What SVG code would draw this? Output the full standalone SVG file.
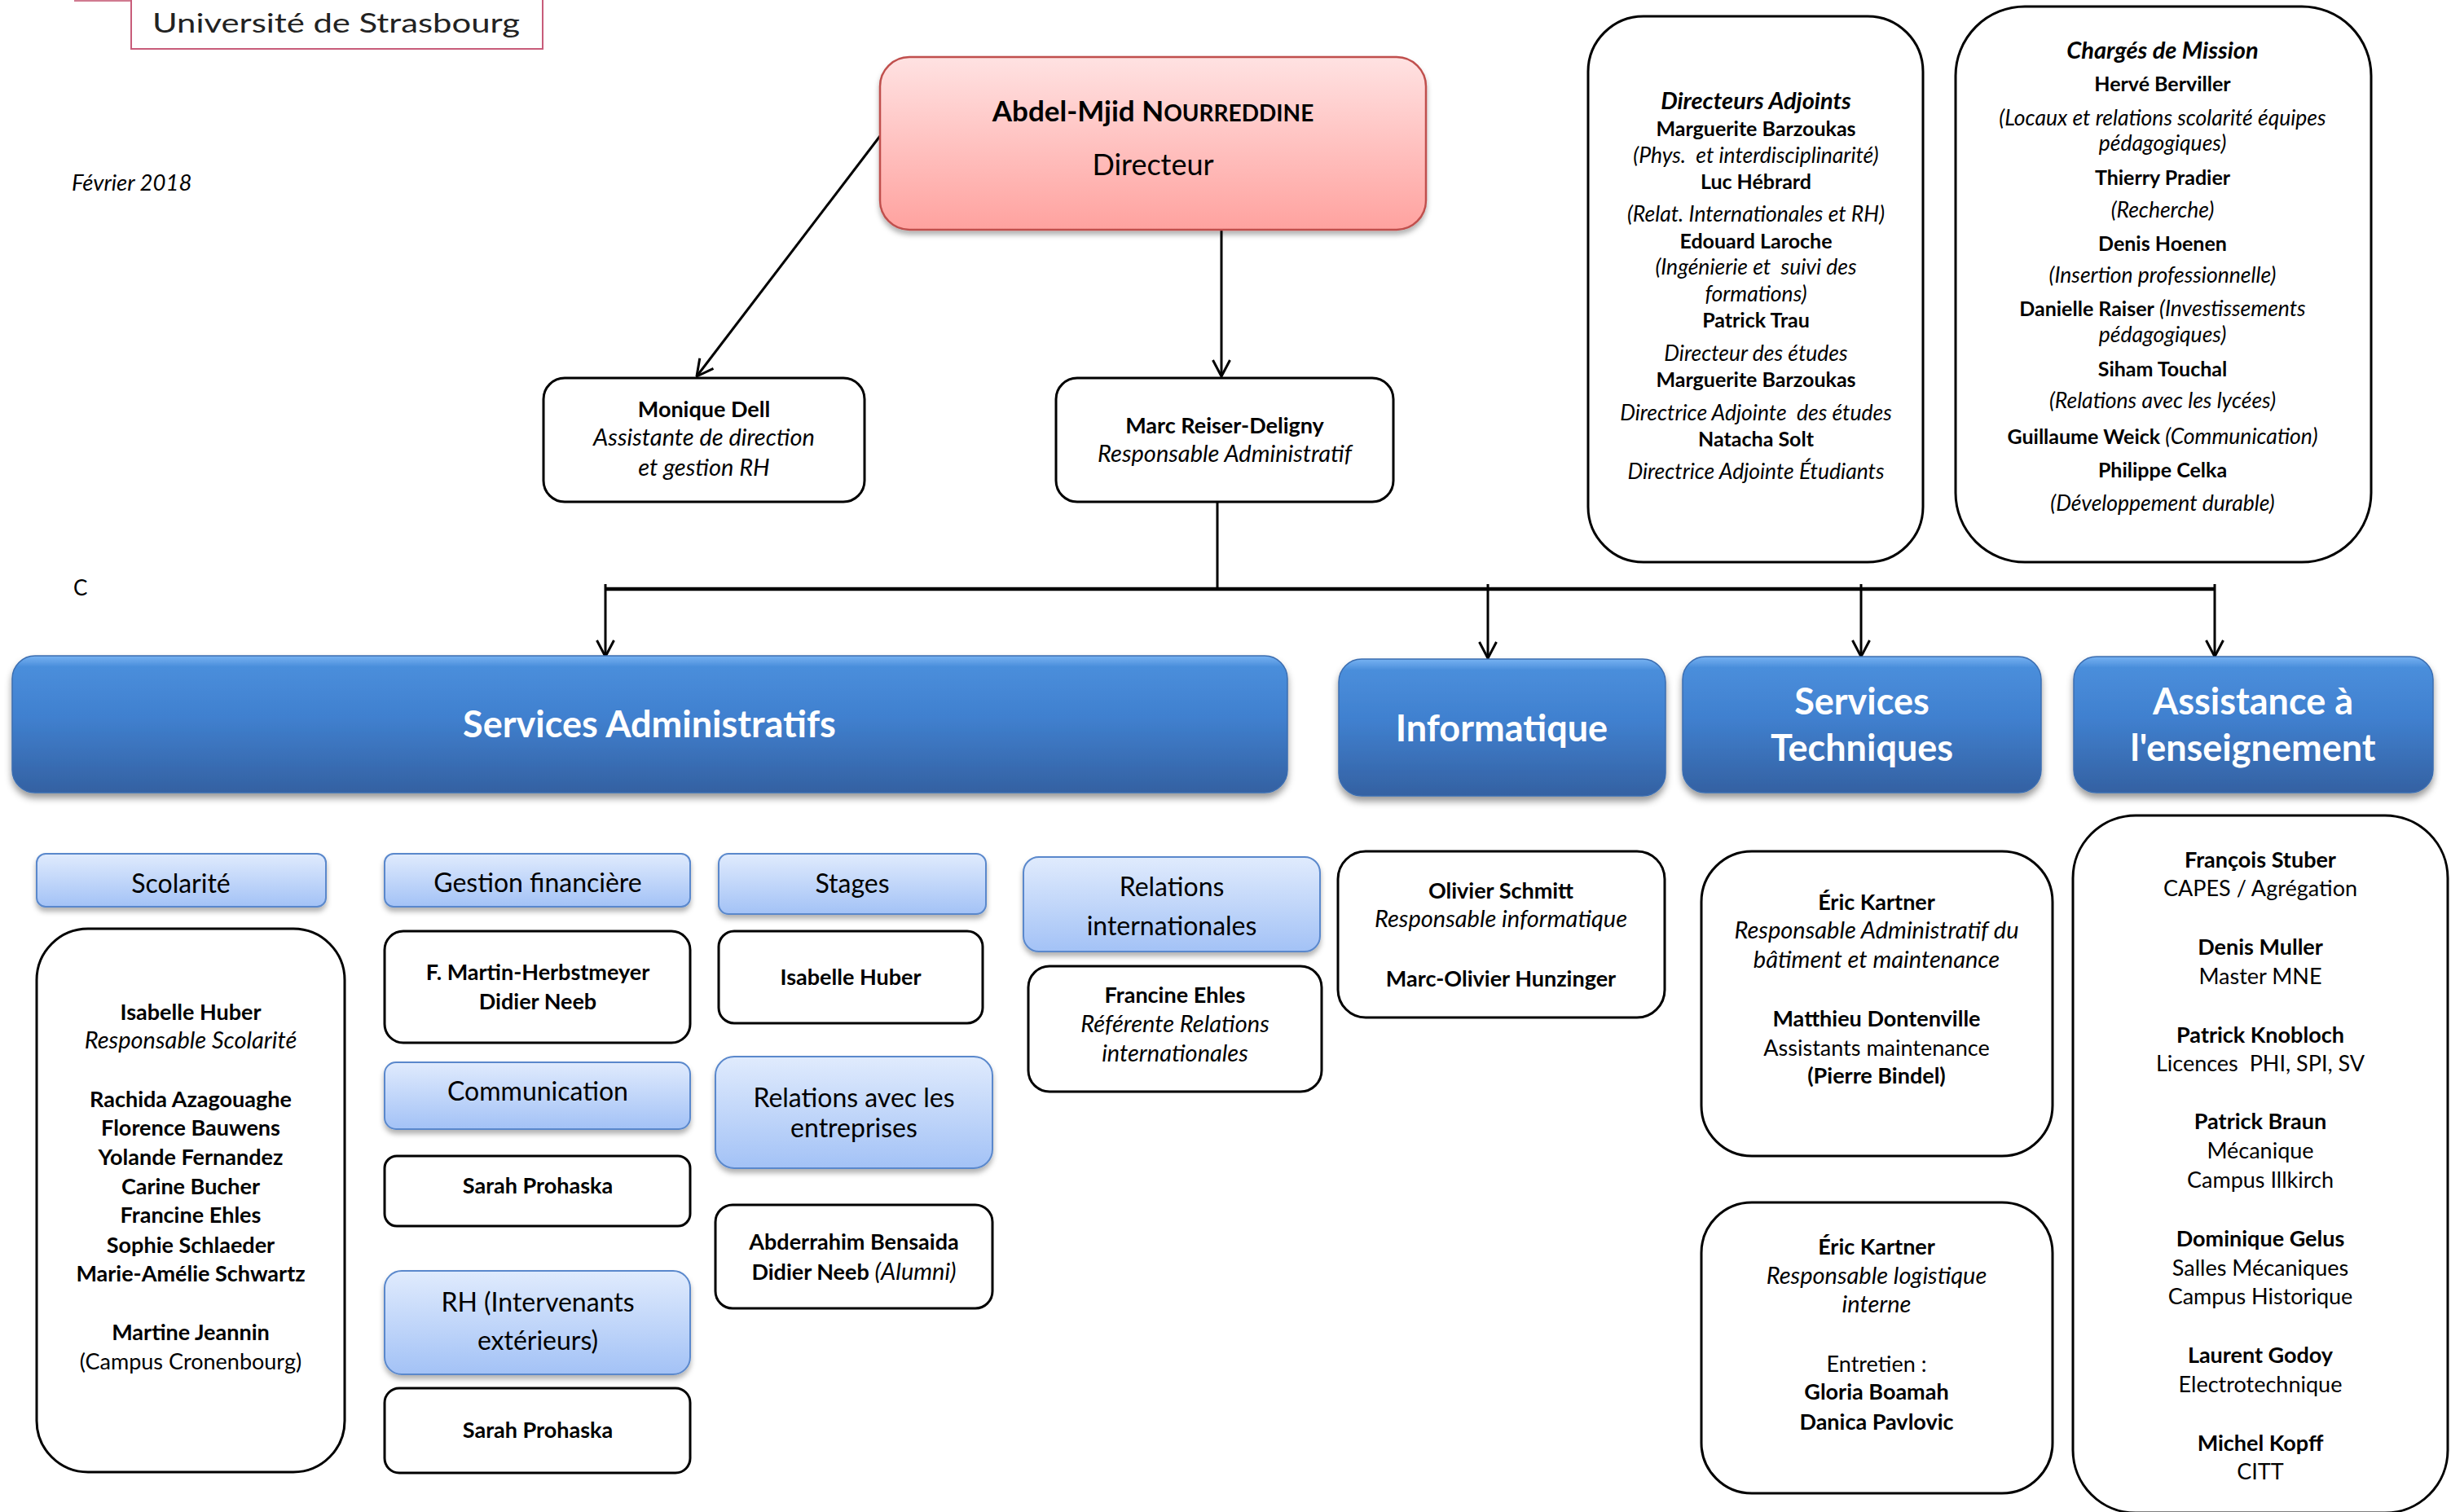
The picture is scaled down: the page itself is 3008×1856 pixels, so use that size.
<svg xmlns="http://www.w3.org/2000/svg" width="3008" height="1856" viewBox="0 0 3008 1856">
<defs>
<style>
text{font-family:Lato,"Open Sans","Liberation Sans",sans-serif;fill:#000;text-anchor:middle}
.b{font-weight:bold}
.i{font-style:italic}
.bi{font-weight:bold;font-style:italic}
.t{font-size:27px}
.t.i,.t .i{font-size:29px}
.s{font-size:25px}
.s .b{font-size:25px}
.s .i{font-size:26.5px}
.s .bi{font-size:29px}
.h{font-size:32px}
.w{font-size:45px;font-weight:bold;fill:#fff}
.box{fill:#fff;stroke:#000;stroke-width:3}
.lb{fill:url(#gLight);stroke:#5A88CC;stroke-width:2;filter:url(#sh)}
.blue{fill:url(#gBlue);stroke:#3B6DB0;stroke-width:1.5;filter:url(#sh2)}
.ln{stroke:#000;stroke-width:3;fill:none}
</style>
<linearGradient id="gLight" x1="0" y1="0" x2="0" y2="1">
<stop offset="0" stop-color="#E0EBFD"/><stop offset="1" stop-color="#A3C2F6"/>
</linearGradient>
<linearGradient id="gBlue" x1="0" y1="0" x2="0" y2="1">
<stop offset="0" stop-color="#77B2F2"/><stop offset="0.08" stop-color="#4A8EDB"/><stop offset="0.45" stop-color="#4080CF"/><stop offset="1" stop-color="#3461A2"/>
</linearGradient>
<linearGradient id="gPink" x1="0" y1="0" x2="0" y2="1">
<stop offset="0" stop-color="#FFE2E2"/><stop offset="1" stop-color="#FFA29F"/>
</linearGradient>
<filter id="sh" x="-5%" y="-10%" width="110%" height="135%">
<feDropShadow dx="0" dy="5" stdDeviation="3" flood-color="#000" flood-opacity="0.3"/>
</filter>
<filter id="sh2" x="-5%" y="-10%" width="110%" height="135%">
<feDropShadow dx="0" dy="6" stdDeviation="4" flood-color="#000" flood-opacity="0.4"/>
</filter>
<marker id="ar" markerUnits="userSpaceOnUse" viewBox="0 0 22 24" refX="21" refY="12" markerWidth="22" markerHeight="24" orient="auto">
<path d="M1,1.5 L21,12 L1,22.5" fill="none" stroke="#000" stroke-width="3"/>
</marker>
</defs>
<rect width="3008" height="1856" fill="#fff"/>

<g id="logo">
<line x1="91" y1="1" x2="666" y2="1" stroke="#D07A90" stroke-width="2"/>
<rect x="161" y="-4" width="505" height="64" fill="#fff" stroke="#C85C7A" stroke-width="2"/>
<text x="187" y="40" style="text-anchor:start;font-size:33px;fill:#222" textLength="451" lengthAdjust="spacingAndGlyphs">Université de Strasbourg</text>
</g>
<g id="date"><text x="88" y="234" class="i" style="text-anchor:start;font-size:27.5px">Février 2018</text></g>
<g id="label-c"><text x="90" y="731" style="text-anchor:start;font-size:26px">C</text></g>

<g id="connectors">
<line class="ln" x1="1080" y1="167" x2="855" y2="462" marker-end="url(#ar)"/>
<line class="ln" x1="1499" y1="282" x2="1499" y2="462" marker-end="url(#ar)"/>
<line class="ln" x1="1494" y1="617" x2="1494" y2="723"/>
<line x1="743" y1="723" x2="2718" y2="723" stroke="#000" stroke-width="4.5"/>
<line class="ln" x1="743" y1="717" x2="743" y2="806" stroke-width="2.5" marker-end="url(#ar)"/>
<line class="ln" x1="1826" y1="717" x2="1826" y2="808" stroke-width="2.5" marker-end="url(#ar)"/>
<line class="ln" x1="2284" y1="717" x2="2284" y2="806" stroke-width="2.5" marker-end="url(#ar)"/>
<line class="ln" x1="2718" y1="717" x2="2718" y2="806" stroke-width="2.5" marker-end="url(#ar)"/>
</g>

<g id="directeur">
<rect x="1080" y="70" width="670" height="212" rx="36" fill="url(#gPink)" stroke="#C0504D" stroke-width="2.5" filter="url(#sh)"/>
<text x="1415" y="149" class="b" style="font-size:35px">Abdel-Mjid N<tspan style="font-size:28px">OURREDDINE</tspan></text>
<text x="1415" y="215" style="font-size:36px">Directeur</text>
</g>

<g id="monique-dell">
<rect class="box" x="667" y="464" width="394" height="152" rx="26"/>
<text x="864" y="512" class="t b">Monique Dell</text>
<text x="864" y="547" class="t i">Assistante de direction</text>
<text x="864" y="584" class="t i">et gestion RH</text>
</g>

<g id="marc-reiser">
<rect class="box" x="1296" y="464" width="414" height="152" rx="26"/>
<text x="1503" y="532" class="t b">Marc Reiser-Deligny</text>
<text x="1503" y="567" class="t i">Responsable Administratif</text>
</g>

<g id="directeurs-adjoints">
<rect class="box" x="1949" y="20" width="411" height="670" rx="68"/>
<g class="s">
<text x="2155" y="134" class="bi">Directeurs Adjoints</text>
<text x="2155" y="167" class="b">Marguerite Barzoukas</text>
<text x="2155" y="200" class="i" xml:space="preserve">(Phys.  et interdisciplinarité)</text>
<text x="2155" y="232" class="b">Luc Hébrard</text>
<text x="2155" y="272" class="i">(Relat. Internationales et RH)</text>
<text x="2155" y="305" class="b">Edouard Laroche</text>
<text x="2155" y="337" class="i" xml:space="preserve">(Ingénierie et  suivi des</text>
<text x="2155" y="370" class="i">formations)</text>
<text x="2155" y="402" class="b">Patrick Trau</text>
<text x="2155" y="443" class="i">Directeur des études</text>
<text x="2155" y="475" class="b">Marguerite Barzoukas</text>
<text x="2155" y="516" class="i" xml:space="preserve">Directrice Adjointe  des études</text>
<text x="2155" y="548" class="b">Natacha Solt</text>
<text x="2155" y="588" class="i">Directrice Adjointe Étudiants</text>
</g>
</g>

<g id="charges-mission">
<rect class="box" x="2400" y="8" width="510" height="682" rx="85"/>
<g class="s">
<text x="2654" y="72" class="bi">Chargés de Mission</text>
<text x="2654" y="112" class="b">Hervé Berviller</text>
<text x="2654" y="154" class="i">(Locaux et relations scolarité équipes</text>
<text x="2654" y="185" class="i">pédagogiques)</text>
<text x="2654" y="227" class="b">Thierry Pradier</text>
<text x="2654" y="267" class="i">(Recherche)</text>
<text x="2654" y="308" class="b">Denis Hoenen</text>
<text x="2654" y="347" class="i">(Insertion professionnelle)</text>
<text x="2654" y="388"><tspan class="b">Danielle Raiser</tspan><tspan class="i"> (Investissements</tspan></text>
<text x="2654" y="420" class="i">pédagogiques)</text>
<text x="2654" y="462" class="b">Siham Touchal</text>
<text x="2654" y="501" class="i">(Relations avec les lycées)</text>
<text x="2654" y="545"><tspan class="b">Guillaume Weick</tspan><tspan class="i"> (Communication)</tspan></text>
<text x="2654" y="586" class="b">Philippe Celka</text>
<text x="2654" y="627" class="i">(Développement durable)</text>
</g>
</g>

<g id="services-administratifs">
<rect class="blue" x="15" y="805" width="1565" height="168" rx="28"/>
<text x="797" y="905" class="w">Services Administratifs</text>
</g>
<g id="informatique">
<rect class="blue" x="1643" y="809" width="401" height="168" rx="28"/>
<text x="1843" y="910" class="w">Informatique</text>
</g>
<g id="services-techniques">
<rect class="blue" x="2065" y="806" width="440" height="167" rx="28"/>
<text x="2285" y="877" class="w">Services</text>
<text x="2285" y="934" class="w">Techniques</text>
</g>
<g id="assistance-enseignement">
<rect class="blue" x="2545" y="806" width="441" height="167" rx="28"/>
<text x="2765" y="877" class="w">Assistance à</text>
<text x="2765" y="934" class="w">l'enseignement</text>
</g>

<g id="scolarite-header">
<rect class="lb" x="45" y="1048" width="355" height="65" rx="11"/>
<text x="222" y="1096" class="h">Scolarité</text>
</g>
<g id="scolarite">
<rect class="box" x="45" y="1140" width="378" height="667" rx="63"/>
<g class="t">
<text x="234" y="1252" class="b">Isabelle Huber</text>
<text x="234" y="1287" class="i">Responsable Scolarité</text>
<text x="234" y="1359" class="b">Rachida Azagouaghe</text>
<text x="234" y="1394" class="b">Florence Bauwens</text>
<text x="234" y="1430" class="b">Yolande Fernandez</text>
<text x="234" y="1466" class="b">Carine Bucher</text>
<text x="234" y="1501" class="b">Francine Ehles</text>
<text x="234" y="1538" class="b">Sophie Schlaeder</text>
<text x="234" y="1573" class="b">Marie-Amélie Schwartz</text>
<text x="234" y="1645" class="b">Martine Jeannin</text>
<text x="234" y="1681">(Campus Cronenbourg)</text>
</g>
</g>

<g id="gestion-financiere-header">
<rect class="lb" x="472" y="1048" width="375" height="65" rx="11"/>
<text x="660" y="1095" class="h">Gestion financière</text>
</g>
<g id="gestion-financiere">
<rect class="box" x="472" y="1143" width="375" height="137" rx="23"/>
<text x="660" y="1203" class="t b">F. Martin-Herbstmeyer</text>
<text x="660" y="1239" class="t b">Didier Neeb</text>
</g>
<g id="communication-header">
<rect class="lb" x="472" y="1304" width="375" height="82" rx="14"/>
<text x="660" y="1351" class="h">Communication</text>
</g>
<g id="communication">
<rect class="box" x="472" y="1419" width="375" height="86" rx="15"/>
<text x="660" y="1465" class="t b">Sarah Prohaska</text>
</g>
<g id="rh-header">
<rect class="lb" x="472" y="1560" width="375" height="127" rx="21"/>
<text x="660" y="1610" class="h">RH (Intervenants</text>
<text x="660" y="1657" class="h">extérieurs)</text>
</g>
<g id="rh">
<rect class="box" x="472" y="1704" width="375" height="104" rx="18"/>
<text x="660" y="1765" class="t b">Sarah Prohaska</text>
</g>

<g id="stages-header">
<rect class="lb" x="882" y="1048" width="328" height="74" rx="12"/>
<text x="1046" y="1096" class="h">Stages</text>
</g>
<g id="stages">
<rect class="box" x="882" y="1143" width="324" height="113" rx="19"/>
<text x="1044" y="1209" class="t b">Isabelle Huber</text>
</g>
<g id="relations-entreprises-header">
<rect class="lb" x="878" y="1297" width="340" height="137" rx="23"/>
<text x="1048" y="1359" class="h">Relations avec les</text>
<text x="1048" y="1396" class="h">entreprises</text>
</g>
<g id="relations-entreprises">
<rect class="box" x="878" y="1479" width="340" height="127" rx="21"/>
<text x="1048" y="1534" class="t b">Abderrahim Bensaida</text>
<text x="1048" y="1571" class="t"><tspan class="b">Didier Neeb</tspan><tspan class="i"> (Alumni)</tspan></text>
</g>

<g id="relations-internationales-header">
<rect class="lb" x="1256" y="1052" width="364" height="116" rx="19"/>
<text x="1438" y="1100" class="h">Relations</text>
<text x="1438" y="1148" class="h">internationales</text>
</g>
<g id="relations-internationales">
<rect class="box" x="1262" y="1186" width="360" height="154" rx="26"/>
<text x="1442" y="1231" class="t b">Francine Ehles</text>
<text x="1442" y="1267" class="t i">Référente Relations</text>
<text x="1442" y="1303" class="t i">internationales</text>
</g>

<g id="informatique-staff">
<rect class="box" x="1642" y="1045" width="401" height="204" rx="34"/>
<text x="1842" y="1103" class="t b">Olivier Schmitt</text>
<text x="1842" y="1138" class="t i">Responsable informatique</text>
<text x="1842" y="1211" class="t b">Marc-Olivier Hunzinger</text>
</g>

<g id="maintenance">
<rect class="box" x="2088" y="1045" width="431" height="374" rx="62"/>
<text x="2303" y="1117" class="t b">Éric Kartner</text>
<text x="2303" y="1152" class="t i">Responsable Administratif du</text>
<text x="2303" y="1188" class="t i">bâtiment et maintenance</text>
<text x="2303" y="1260" class="t b">Matthieu Dontenville</text>
<text x="2303" y="1296" class="t">Assistants maintenance</text>
<text x="2303" y="1330" class="t b">(Pierre Bindel)</text>
</g>
<g id="logistique">
<rect class="box" x="2088" y="1476" width="431" height="357" rx="62"/>
<text x="2303" y="1540" class="t b">Éric Kartner</text>
<text x="2303" y="1576" class="t i">Responsable logistique</text>
<text x="2303" y="1611" class="t i">interne</text>
<text x="2303" y="1684" class="t">Entretien :</text>
<text x="2303" y="1718" class="t b">Gloria Boamah</text>
<text x="2303" y="1755" class="t b">Danica Pavlovic</text>
</g>

<g id="assistance-staff">
<rect class="box" x="2544" y="1001" width="460" height="856" rx="77"/>
<g class="t">
<text x="2774" y="1065" class="b">François Stuber</text>
<text x="2774" y="1100">CAPES / Agrégation</text>
<text x="2774" y="1172" class="b">Denis Muller</text>
<text x="2774" y="1208">Master MNE</text>
<text x="2774" y="1280" class="b">Patrick Knobloch</text>
<text x="2774" y="1315" xml:space="preserve">Licences  PHI, SPI, SV</text>
<text x="2774" y="1386" class="b">Patrick Braun</text>
<text x="2774" y="1422">Mécanique</text>
<text x="2774" y="1458">Campus Illkirch</text>
<text x="2774" y="1530" class="b">Dominique Gelus</text>
<text x="2774" y="1566">Salles Mécaniques</text>
<text x="2774" y="1601">Campus Historique</text>
<text x="2774" y="1673" class="b">Laurent Godoy</text>
<text x="2774" y="1709">Electrotechnique</text>
<text x="2774" y="1781" class="b">Michel Kopff</text>
<text x="2774" y="1816">CITT</text>
</g>
</g>
</svg>
